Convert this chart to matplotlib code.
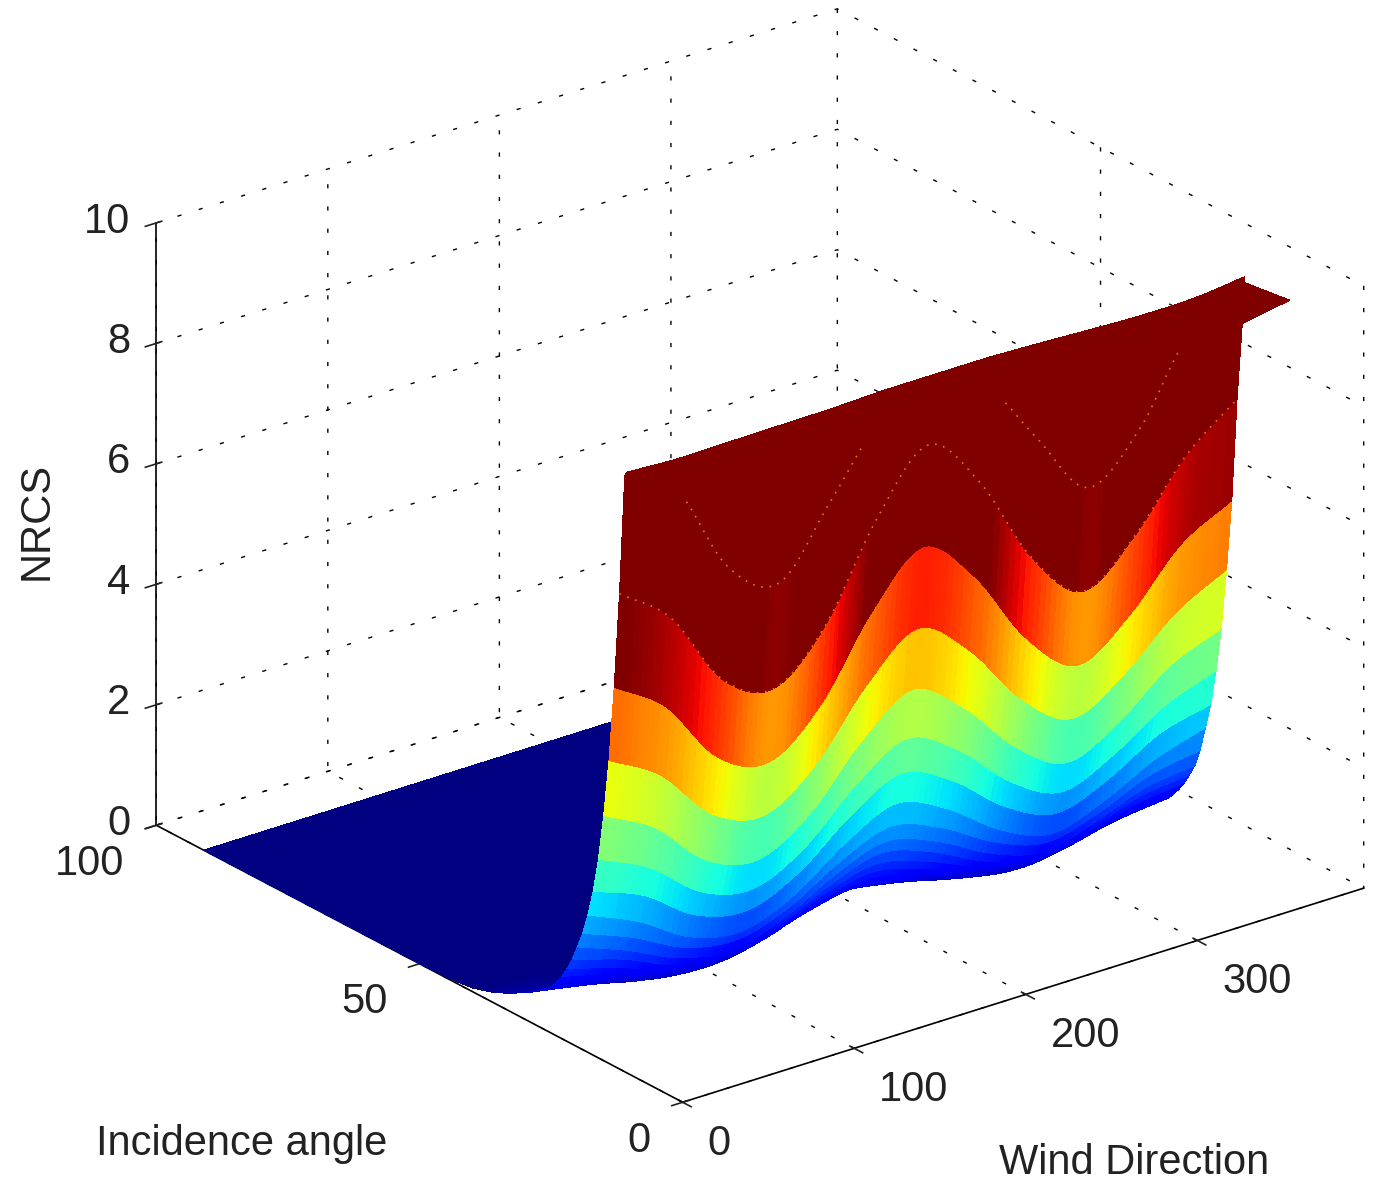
import numpy as np
import matplotlib
matplotlib.use('Agg')
from matplotlib import pyplot as plt

plt.rcParams['font.family'] = ['Liberation Sans', 'DejaVu Sans']

# values, one row per incidence angle, columns every 30 deg of wind
wind = np.arange(0, 361, 30)
incidence = [10.5, 11, 12, 13, 14, 15, 16, 17, 18, 19, 20, 21, 22, 23, 24, 25, 26, 27, 28, 29, 30,
             32, 34, 36, 38, 40, 44, 50, 91]
nrcs = [
    [9.98, 9.94, 9.95, 9.96, 9.97, 10.0, 10.03, 10.0, 9.97, 9.93, 9.9, 9.91, 10.0],
    [9.9, 9.4, 7.85, 7.31, 8.4, 9.5, 9.7, 9.5, 8.38, 7.28, 7.98, 9.3, 9.2],
    [7.89, 7.22, 5.93, 5.51, 6.29, 7.79, 8.75, 7.86, 6.35, 5.51, 6.15, 7.22, 7.90],
    [6.29, 5.70, 4.60, 4.24, 4.91, 6.19, 7.01, 6.25, 4.96, 4.24, 4.79, 5.70, 6.17],
    [5.03, 4.52, 3.61, 3.31, 3.87, 4.93, 5.61, 4.98, 3.91, 3.31, 3.77, 4.52, 4.98],
    [4.07, 3.60, 2.79, 2.53, 3.02, 3.95, 4.55, 3.98, 3.06, 2.53, 2.93, 3.60, 3.95],
    [3.30, 2.89, 2.22, 2.00, 2.41, 3.19, 3.69, 3.23, 2.44, 2.00, 2.34, 2.89, 3.21],
    [2.72, 2.38, 1.79, 1.60, 1.96, 2.63, 3.07, 2.67, 1.98, 1.60, 1.89, 2.38, 2.60],
    [2.28, 1.90, 1.38, 1.21, 1.53, 2.13, 2.52, 2.16, 1.55, 1.21, 1.47, 1.90, 2.17],
    [1.93, 1.59, 1.16, 1.02, 1.28, 1.78, 2.10, 1.80, 1.30, 1.02, 1.23, 1.59, 1.75],
    [1.66, 1.33, 0.94, 0.81, 1.05, 1.51, 1.80, 1.53, 1.07, 0.81, 1.01, 1.33, 1.45],
    [1.40, 1.14, 0.78, 0.66, 0.88, 1.29, 1.56, 1.31, 0.89, 0.66, 0.84, 1.14, 1.25],
    [1.20, 0.96, 0.64, 0.54, 0.73, 1.10, 1.33, 1.11, 0.75, 0.54, 0.70, 0.96, 1.07],
    [1.03, 0.81, 0.53, 0.44, 0.61, 0.93, 1.14, 0.95, 0.62, 0.44, 0.58, 0.81, 0.92],
    [0.89, 0.69, 0.44, 0.36, 0.51, 0.80, 0.98, 0.81, 0.52, 0.36, 0.48, 0.69, 0.79],
    [0.76, 0.58, 0.36, 0.29, 0.42, 0.68, 0.84, 0.69, 0.43, 0.29, 0.40, 0.58, 0.68],
    [0.70, 0.51, 0.31, 0.24, 0.36, 0.60, 0.75, 0.61, 0.37, 0.24, 0.34, 0.51, 0.60],
    [0.62, 0.45, 0.25, 0.19, 0.31, 0.53, 0.68, 0.55, 0.32, 0.19, 0.29, 0.45, 0.53],
    [0.55, 0.39, 0.21, 0.15, 0.26, 0.47, 0.61, 0.48, 0.27, 0.15, 0.24, 0.39, 0.47],
    [0.49, 0.34, 0.17, 0.12, 0.22, 0.42, 0.54, 0.42, 0.23, 0.12, 0.20, 0.34, 0.41],
    [0.44, 0.30, 0.14, 0.09, 0.19, 0.37, 0.49, 0.38, 0.19, 0.09, 0.17, 0.30, 0.37],
    [0.34, 0.22, 0.09, 0.05, 0.13, 0.28, 0.38, 0.29, 0.14, 0.05, 0.12, 0.22, 0.28],
    [0.25, 0.16, 0.06, 0.03, 0.09, 0.21, 0.28, 0.21, 0.10, 0.03, 0.08, 0.16, 0.21],
    [0.17, 0.11, 0.03, 0.01, 0.05, 0.14, 0.19, 0.14, 0.06, 0.01, 0.05, 0.11, 0.14],
    [0.11, 0.06, 0.02, 0.00, 0.03, 0.08, 0.12, 0.09, 0.03, 0.00, 0.02, 0.06, 0.08],
    [0.06, 0.04, 0.01, 0.00, 0.02, 0.05, 0.07, 0.05, 0.02, 0.00, 0.01, 0.04, 0.05],
    [0.02, 0.01, 0.00, 0.00, 0.00, 0.01, 0.02, 0.01, 0.00, 0.00, 0.00, 0.01, 0.01],
    [0.00, 0.00, 0.00, 0.00, 0.00, 0.00, 0.00, 0.00, 0.00, 0.00, 0.00, 0.00, 0.00],
    [0.00, 0.00, 0.00, 0.00, 0.00, 0.00, 0.00, 0.00, 0.00, 0.00, 0.00, 0.00, 0.00],
]
# upper colour limit at each wind knot
color_top = [6.5, 6.2, 5.6, 5.8, 5.85, 6.3, 6.6, 6.3, 5.9, 5.8, 5.85, 6.2, 6.55]

# little flap at the far end of the top edge
tip_wind = [355, 360, 360]
tip_incidence = [10.5, 2, 11]
tip_nrcs = [10, 10, 9.2]

x_ticks = [0, 100, 200, 300]
y_ticks = [0, 50, 100]
z_ticks = [0, 2, 4, 6, 8, 10]


def smooth(row, fine):
    # catmull-rom through the knots, the surface in the picture has no corners
    row = np.asarray(row, dtype=float)
    p = np.concatenate(([2 * row[0] - row[1]], row, [2 * row[-1] - row[-2]]))
    k = np.minimum((fine / 30).astype(int), len(row) - 2)
    t = fine / 30 - k
    p0, p1, p2, p3 = p[k], p[k + 1], p[k + 2], p[k + 3]
    return 0.5 * (2 * p1 + (p2 - p0) * t + (2 * p0 - 5 * p1 + 4 * p2 - p3) * t ** 2
                  + (3 * p1 - p0 - 3 * p2 + p3) * t ** 3)


fine_wind = np.arange(0, 361, 3.0)
inc = np.array(incidence)[::-1]      # high incidence first, a facet takes its colour from that side
Z = np.array([smooth(r, fine_wind) for r in nrcs[::-1]])
Z = np.clip(Z, 0, 10)
X, Y = np.meshgrid(fine_wind, inc)
top = smooth(color_top, fine_wind)
colors = plt.cm.jet(np.clip(1.04 * np.clip(Z / top, 0, 1) ** 1.05, 0, 1))

fig = plt.figure(figsize=(13.74, 11.82), dpi=100)
ax = fig.add_axes([0.0415, 0.0165, 1, 1], projection='3d', proj_type='ortho', computed_zorder=False)
ax.view_init(elev=24, azim=-127.7)
ax.set_box_aspect((1, 1, 0.766), zoom=1.137)

ax.plot_surface(X, Y, Z, facecolors=colors, rstride=1, cstride=1, shade=False,
                linewidth=0, antialiased=False, zorder=1)
ax.plot_trisurf(tip_wind, tip_incidence, tip_nrcs, color='#800000', shade=False,
                linewidth=0, antialiased=False, zorder=2)

# the grid lines of the two upper rows show up as orange dots on the dark red
for row in (1, 2):
    line = smooth(nrcs[row], fine_wind)
    line = np.where(line < 9.2, line, np.nan)
    ax.plot(fine_wind, np.full_like(fine_wind, incidence[row]), line, color='#f07010',
            lw=1.2, ls=(0, (1, 4)), zorder=3)

ax.set_xlim(0, 397, view_margin=0)
ax.set_ylim(0, 100, view_margin=0)
ax.set_zlim(0, 10, view_margin=0)
ax.set_xticks(x_ticks)
ax.set_yticks(y_ticks)
ax.set_zticks(z_ticks)
ax.tick_params(labelsize=30, colors='#222222')
ax.tick_params(axis='x', pad=13)
ax.tick_params(axis='y', pad=13)
ax.tick_params(axis='z', pad=1.6)
plt.setp(ax.get_xticklabels(), ha='left', va='center')
plt.setp(ax.get_yticklabels(), ha='right', va='center')
plt.setp(ax.get_zticklabels(), ha='right', va='center')

for axis in (ax.xaxis, ax.yaxis, ax.zaxis):
    axis.set_pane_color((1, 1, 1, 1))
    axis.pane.set_edgecolor('white')
    axis._axinfo['grid']['color'] = 'black'
    axis._axinfo['grid']['linewidth'] = 1.0
    axis._axinfo['grid']['linestyle'] = (0, (3, 13))
    axis._axinfo['axisline']['color'] = 'black'
    axis._axinfo['tick']['linewidth'] = {True: 1.2, False: 1.2}
    axis.line.set_linewidth(1.2)
ax.zaxis.set_ticks_position('upper')

fig.text(242 / 1374, 1 - 1144 / 1182, 'Incidence angle', fontsize=30, color='#222222', ha='center', va='center')
fig.text(1134 / 1374, 1 - 1163 / 1182, 'Wind Direction', fontsize=30, color='#222222', ha='center', va='center')
fig.text(37 / 1374, 1 - 521 / 1182, 'NRCS', fontsize=30, color='#222222', rotation=90, ha='center', va='center')

fig.savefig('out.png', dpi=100)
